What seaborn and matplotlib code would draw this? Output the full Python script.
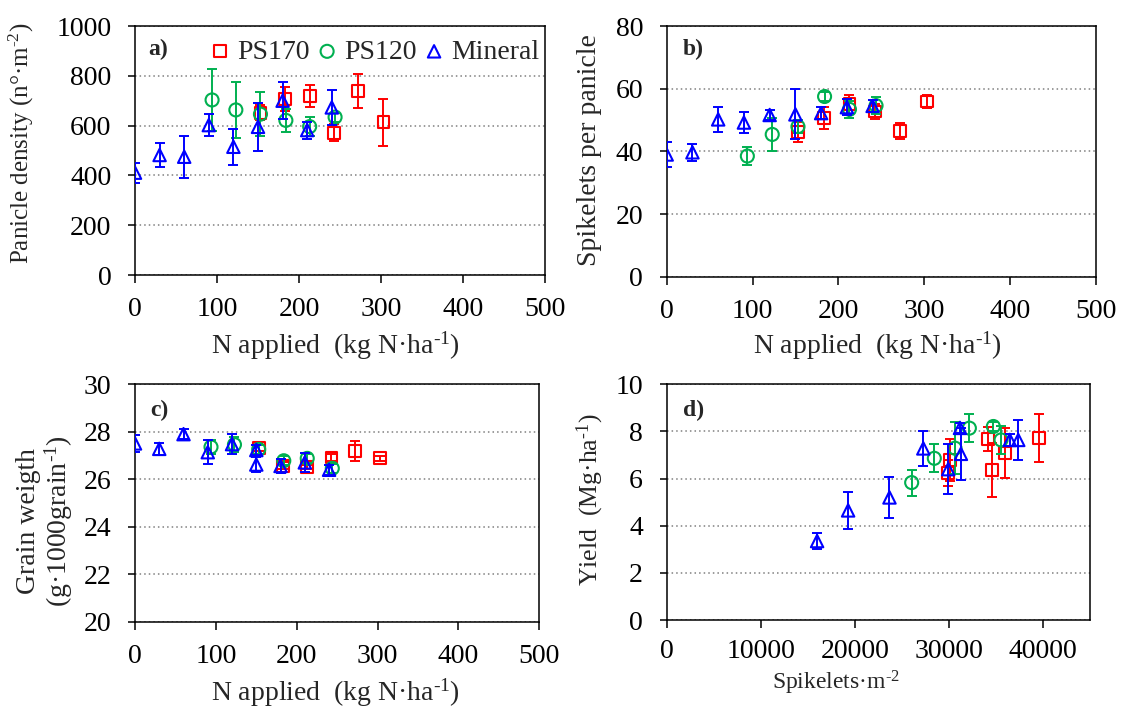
import numpy as np
import pandas as pd
import matplotlib
matplotlib.use("Agg")
import matplotlib.pyplot as plt
import seaborn as sns

# ---------------- data ----------------
N_MIN = [0, 30, 60, 90, 120, 150, 180, 210, 240]
N_PS120 = [94, 123, 153, 184, 213, 244]
N_PS170 = [153, 183, 213, 243, 272, 303]

# a) panicle density
A_MIN = [411, 482, 475, 602, 515, 595, 700, 582, 673]
A_MIN_E = [40, 47, 84, 43, 72, 97, 75, 34, 71]
A_PS120 = [703, 663, 646, 621, 596, 634]
A_PS120_E = [124, 112, 87, 47, 38, 18]
A_PS170 = [652, 707, 719, 571, 739, 613]
A_PS170_E = [30, 47, 43, 34, 69, 94]

# b) spikelets per panicle
B_MIN = [39.0, 39.7, 50.2, 49.2, 51.6, 51.8, 52.2, 54.1, 54.5]
B_MIN_E = [4.0, 2.8, 4.0, 3.3, 1.5, 8.0, 2.0, 2.5, 2.0]
B_PS120 = [38.5, 45.4, 47.9, 57.5, 53.4, 54.6]
B_PS120_E = [2.8, 5.4, 2.0, 1.5, 2.7, 2.8]
B_PS170 = [46.2, 50.6, 55.0, 52.7, 46.6, 55.9]
B_PS170_E = [3.2, 3.6, 3.0, 2.4, 2.5, 2.2]

# c) grain weight
C_N_MIN = [0, 30, 60, 90, 120, 150, 150, 180, 210, 240]
C_MIN = [27.51, 27.28, 27.90, 27.14, 27.48, 26.62, 27.23, 26.56, 26.71, 26.40]
C_MIN_E = [0.35, 0.26, 0.20, 0.50, 0.42, 0.32, 0.20, 0.28, 0.40, 0.20]
C_PS120 = [27.36, 27.46, 27.26, 26.78, 26.88, 26.46]
C_PS120_E = [0.30, 0.30, 0.20, 0.20, 0.20, 0.20]
C_PS170 = [27.33, 26.57, 26.52, 26.92, 27.20, 26.88]
C_PS170_E = [0.12, 0.15, 0.10, 0.15, 0.42, 0.10]

# d) yield vs spikelets
D_MIN_X = [16000, 19300, 23700, 29950, 27300, 31200, 36500, 31300, 37400]
D_MIN = [3.35, 4.65, 5.20, 6.40, 7.28, 8.15, 7.64, 7.05, 7.64]
D_MIN_E = [0.35, 0.80, 0.86, 1.05, 0.75, 0.20, 0.25, 1.10, 0.85]
D_PS120_X = [26060, 28470, 30670, 32200, 34750, 35570]
D_PS120 = [5.83, 6.86, 7.29, 8.14, 8.21, 7.64]
D_PS120_E = [0.55, 0.59, 1.10, 0.60, 0.20, 0.60]
D_PS170_X = [29960, 30140, 34220, 34570, 35990, 39640]
D_PS170 = [6.23, 6.79, 7.67, 6.35, 7.07, 7.71]
D_PS170_E = [0.55, 0.90, 0.50, 1.15, 1.06, 1.01]

SERIES = ["PS170", "PS120", "Mineral"]
COLORS = {"PS170": "#FF0000", "PS120": "#00B050", "Mineral": "#0000FF"}
MARKERS = {"PS170": "s", "PS120": "o", "Mineral": "^"}
SIZES = {"PS170": 72, "PS120": 88, "Mineral": 80}

# ---------------- style ----------------
sns.set_theme(style="white")
plt.rcParams["font.family"] = ["Liberation Serif", "DejaVu Serif"]
plt.rcParams["mathtext.fontset"] = "custom"
plt.rcParams["mathtext.rm"] = "Liberation Serif"
plt.rcParams["mathtext.it"] = "Liberation Serif"
plt.rcParams["mathtext.default"] = "regular"

FS = 20
W, H = 1123, 709
fig = plt.figure(figsize=(W / 100, H / 100), dpi=100)


def px_axes(x0, y0, x1, y1):
    return fig.add_axes([x0 / W, 1 - y1 / H, (x1 - x0) / W, (y1 - y0) / H])


ax_a = px_axes(135, 26, 545, 275)
ax_b = px_axes(666.7, 26, 1095.7, 276.7)
ax_c = px_axes(135, 384.3, 539.3, 621.7)
ax_d = px_axes(666.7, 384.3, 1089.7, 620)


def draw(ax, data):
    z = 3
    for name in SERIES:
        x, y, e = data[name]
        c = COLORS[name]
        ax.errorbar(x, y, yerr=e, fmt="none", ecolor=c, elinewidth=1.4,
                    capsize=3.5, capthick=1.4, zorder=z)
        df = pd.DataFrame({"x": x, "y": y})
        sns.scatterplot(data=df, x="x", y="y", ax=ax, marker=MARKERS[name],
                        s=SIZES[name], color=c, facecolor="none", edgecolor=c,
                        linewidth=1.5, label=name, legend=False, zorder=z + 0.5)
        z += 1


def style(ax, xlim, xticks, ylim, yticks, xpad=10):
    ax.set_xlim(*xlim)
    ax.set_ylim(*ylim)
    ax.set_xticks(xticks)
    ax.set_yticks(yticks)
    ax.yaxis.grid(True, linestyle=(0, (1, 2)), color="#808080", linewidth=1.1)
    ax.xaxis.grid(False)
    ax.set_axisbelow(True)
    for sp in ax.spines.values():
        sp.set_visible(True)
        sp.set_color("black")
        sp.set_linewidth(1.1)
    ax.tick_params(axis="x", direction="out", length=6, width=1.1, pad=xpad,
                   labelsize=FS, colors="black", bottom=True)
    ax.tick_params(axis="y", direction="out", length=5, width=1.1, pad=12,
                   labelsize=FS, colors="black", left=True)
    ax.set_facecolor("white")


draw(ax_a, {"PS170": (N_PS170, A_PS170, A_PS170_E),
            "PS120": (N_PS120, A_PS120, A_PS120_E),
            "Mineral": (N_MIN, A_MIN, A_MIN_E)})
draw(ax_b, {"PS170": (N_PS170, B_PS170, B_PS170_E),
            "PS120": (N_PS120, B_PS120, B_PS120_E),
            "Mineral": (N_MIN, B_MIN, B_MIN_E)})
draw(ax_c, {"PS170": (N_PS170, C_PS170, C_PS170_E),
            "PS120": (N_PS120, C_PS120, C_PS120_E),
            "Mineral": (C_N_MIN, C_MIN, C_MIN_E)})
draw(ax_d, {"PS170": (D_PS170_X, D_PS170, D_PS170_E),
            "PS120": (D_PS120_X, D_PS120, D_PS120_E),
            "Mineral": (D_MIN_X, D_MIN, D_MIN_E)})

xt = [0, 100, 200, 300, 400, 500]
style(ax_a, (0, 500), xt, (0, 1000), [0, 200, 400, 600, 800, 1000])
style(ax_b, (0, 500), xt, (0, 80), [0, 20, 40, 60, 80])
style(ax_c, (0, 500), xt, (20, 30), [20, 22, 24, 26, 28, 30])
style(ax_d, (0, 45000), [0, 10000, 20000, 30000, 40000], (0, 10),
      [0, 2, 4, 6, 8, 10], xpad=8)

SUP1 = "$^{\\text{-1}}$"
SUP2 = "$^{\\text{-2}}$"
xl = "N applied  (kg N\u00b7ha" + SUP1 + ")"
ax_a.set_xlabel(xl, fontsize=FS, va="center")
ax_a.xaxis.set_label_coords(0.49, -0.285)
ax_b.set_xlabel(xl, fontsize=FS, va="center")
ax_b.xaxis.set_label_coords(0.492, -0.276)
ax_c.set_xlabel(xl, fontsize=FS, va="center")
ax_c.xaxis.set_label_coords(0.495, -0.300)
ax_d.set_xlabel("Spikelets\u00b7m" + SUP2, fontsize=17, va="center")
ax_d.xaxis.set_label_coords(0.40, -0.265)

ax_a.set_ylabel("Panicle density (n\u00b0\u00b7m" + SUP2 + ")", fontsize=18, va="center")
ax_a.yaxis.set_label_coords(-0.276, 0.53)
ax_b.set_ylabel("Spikelets per panicle", fontsize=FS, va="center")
ax_b.yaxis.set_label_coords(-0.179, 0.505)
ax_c.set_ylabel("Grain weigth\n(g\u00b71000grain" + SUP1 + ")", fontsize=FS,
                va="center", linespacing=1.05)
ax_c.yaxis.set_label_coords(-0.222, 0.424)
ax_d.set_ylabel("Yield  (Mg\u00b7ha" + SUP1 + ")", fontsize=18.5, va="center")
ax_d.yaxis.set_label_coords(-0.181, 0.509)

for ax, lab in [(ax_a, "a)"), (ax_b, "b)"), (ax_c, "c)"), (ax_d, "d)")]:
    ax.text(0.032 if ax is ax_a else 0.038, 0.905 if ax in (ax_a, ax_b) else 0.89,
            lab, transform=ax.transAxes, fontsize=17, fontweight="bold",
            ha="left", va="center")

handles, labels = ax_a.get_legend_handles_labels()
order = [labels.index(s) for s in SERIES]
ax_a.legend([handles[i] for i in order], [labels[i] for i in order],
            ncol=3, loc="center right", bbox_to_anchor=(0.985, 0.896),
            frameon=False, fontsize=FS, handlelength=0.6, handletextpad=0.3,
            columnspacing=0.34, borderaxespad=0.0, borderpad=0.0)

fig.savefig("out.png", dpi=100, facecolor="white")
